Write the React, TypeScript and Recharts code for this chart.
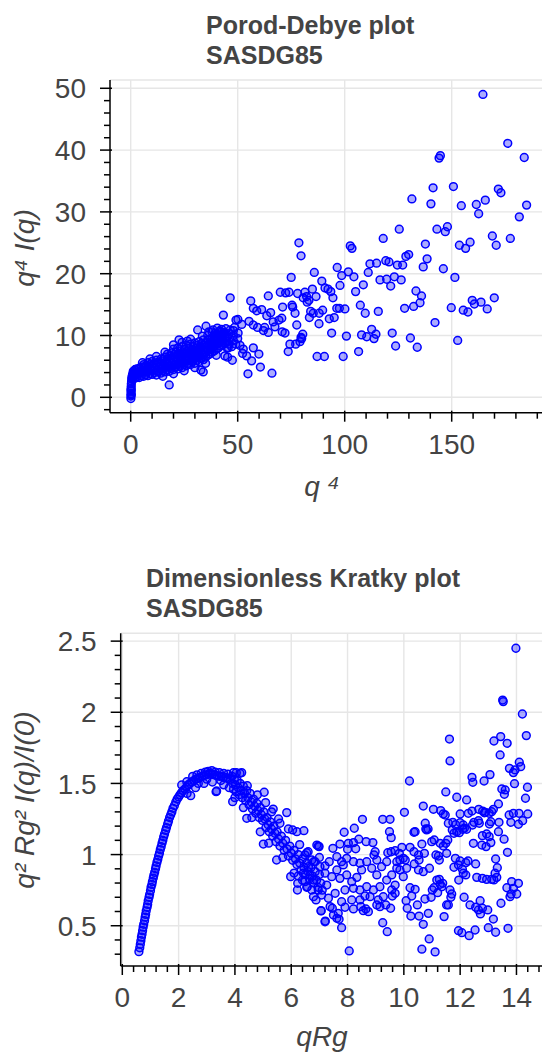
import React from 'react';
import { ScatterChart, Scatter, XAxis, YAxis, CartesianGrid, ReferenceLine } from 'recharts';

const FONT = '"Liberation Sans", Arial, Helvetica, sans-serif';
const TEXT = '#444444';
const BLUE = '#0000ff';
const GRID = '#e6e6e6';

// ---- Porod-Debye plot: q^4 vs q^4 I(q) ----
const POROD_CORE: [number, number][] = [
  [0.1, -0.2], [0.1, 0.2], [0.15, 0.6], [0.2, 1.0], [0.2, 1.4], [0.25, 1.8], [0.3, 2.2], [0.4, 2.6],
  [0.5, 3.0], [0.3, 0.4], [0.2, 1.2], [0.6, 3.3], [0.8, 3.6], [1.1, 3.9], [1.5, 4.2], [0.9, 2.9],
  [1.3, 3.2], [1.8, 3.5], [2.4, 3.9], [2.1, 4.5],
];

const POROD_BAND: [number, number][] = [
  [1, 3.0], [1, 3.6], [1.2, 4.2], [2, 3.1], [2.2, 3.8], [2, 4.4], [3, 3.3], [3.1, 4.0], [3, 4.6],
  [4, 3.2], [4.2, 3.9], [4, 4.7], [5, 3.5], [5.1, 4.2], [5, 4.9], [6, 3.4], [6.2, 4.1], [6, 4.8], [6.1, 5.3],
  [7, 3.6], [7.2, 4.4], [7, 5.1], [8, 3.5], [8.1, 4.3], [8, 5.0], [8.2, 5.6], [9, 3.8], [9.1, 4.6], [9, 5.3],
  [10, 3.7], [10.2, 4.4], [10, 5.1], [10.1, 5.8], [11, 4.0], [11.1, 4.8], [11, 5.5],
  [12, 3.6], [12.2, 4.3], [12, 5.2], [12.1, 6.0], [13, 4.1], [13.2, 4.9], [13, 5.7],
  [14, 3.9], [14.1, 4.6], [14, 5.4], [14.2, 6.2], [15, 4.3], [15.1, 5.1], [15, 5.9],
  [16, 4.1], [16.2, 4.8], [16, 5.6], [16.1, 6.5], [17, 4.5], [17.1, 5.3], [17, 6.1], [17.2, 7.0],
  [18, 4.2], [18.1, 5.0], [18, 5.8], [18.2, 6.7], [19, 4.7], [19.2, 5.5], [19, 6.3], [19.1, 7.2],
  [20, 4.5], [20.1, 5.2], [20, 6.0], [20.2, 6.9], [20, 7.8], [21, 4.9], [21.2, 5.7], [21, 6.5], [21.1, 7.3],
  [22, 4.6], [22.1, 5.4], [22, 6.2], [22.2, 7.0], [22, 8.0], [23, 5.0], [23.2, 5.9], [23, 6.7], [23.1, 7.5],
  [24, 4.8], [24.1, 5.6], [24, 6.4], [24.2, 7.2], [24, 8.2], [25, 5.3], [25.2, 6.1], [25, 6.9], [25.1, 7.7],
  [26, 5.1], [26.1, 5.9], [26, 6.6], [26.2, 7.4], [26, 8.4], [27, 5.5], [27.2, 6.3], [27, 7.1], [27.1, 7.9],
  [28, 5.3], [28.1, 6.1], [28, 6.9], [28.2, 7.6], [28, 8.6], [29, 5.8], [29.2, 6.6], [29, 7.4], [29.1, 8.2],
  [30, 5.5], [30.1, 6.3], [30, 7.1], [30.2, 7.9], [30, 8.8], [31, 6.0], [31.2, 6.8], [31, 7.6], [31.1, 8.4],
  [32, 5.8], [32.1, 6.6], [32, 7.4], [32.2, 8.1], [32, 9.0], [33, 6.3], [33.2, 7.1], [33, 7.9], [33.1, 8.7],
  [34, 6.1], [34.1, 6.9], [34, 7.7], [34.2, 8.5], [34, 9.3], [35, 6.5], [35.2, 7.3], [35, 8.1], [35.1, 8.9],
  [36, 6.8], [36.1, 7.6], [36, 8.4], [36.2, 9.2], [36, 10.0], [37, 7.0], [37.2, 7.8], [37, 8.6], [37.1, 9.4],
  [38, 7.3], [38.1, 8.1], [38, 8.9], [38.2, 9.7], [39, 7.5], [39.2, 8.3], [39, 9.1], [39.1, 9.9],
  [40, 7.8], [40.1, 8.6], [40, 9.4], [40.2, 10.2], [41, 8.0], [41.2, 8.8], [41, 9.6],
  [42, 8.3], [42.1, 9.1], [42, 9.9], [42.2, 10.5], [43, 8.5], [43.2, 9.3], [43, 10.1],
  [44, 8.8], [44.1, 9.6], [44, 10.4], [45, 9.0], [45.2, 9.8], [46, 8.6], [46.1, 9.5], [46, 10.3],
  [48, 9.2], [48.1, 10.0], [48, 10.8], [50, 9.5], [50.2, 10.4],
  [36.5, 10.6], [38.5, 10.9], [40.5, 11.2], [42.5, 11.0], [44.5, 11.1], [46.5, 10.9], [48.5, 11.3],
  [39.5, 10.4], [41.5, 10.7], [43.5, 10.5],
  [15, 3.4], [20, 3.8], [25, 4.3], [30, 4.8], [35, 5.5], [40, 6.8], [45, 8.0], [28, 9.4], [24, 8.9],
  [20, 8.5], [38, 10.6], [16, 7.3], [12, 6.6], [9, 6.2], [5.5, 5.6], [26.5, 9.1], [33.5, 9.9],
];

const POROD_SPREAD: [number, number][] = [
  [18.0, 2.0], [22.6, 9.3], [31.3, 10.9], [35.2, 11.5], [33.9, 4.1], [32.8, 4.4],
  [46.5, 16.1], [56.1, 15.6], [64.3, 16.4], [69.9, 17.0], [74.0, 17.0], [72.4, 16.9], [78.0, 16.8],
  [81.4, 17.0], [82.2, 16.3], [83.3, 15.7], [86.6, 16.3],
  [57.3, 14.4], [58.9, 14.0], [61.2, 14.2], [65.4, 13.7], [63.6, 13.2], [71.0, 14.6], [75.7, 14.6],
  [76.8, 13.6], [75.4, 14.9], [43.3, 13.3], [49.2, 12.5], [50.1, 12.6],
  [51.9, 11.8], [55.3, 12.3], [57.3, 11.7], [59.3, 11.3], [62.6, 11.3], [62.0, 10.8], [64.3, 10.5],
  [66.6, 12.2], [67.4, 11.4], [69.3, 12.5], [70.6, 12.8], [70.8, 10.6], [72.1, 10.4],
  [77.6, 11.7], [79.6, 9.7], [77.1, 8.6], [73.6, 7.4], [74.4, 8.6],
  [45.6, 8.0], [47.2, 8.2], [49.1, 8.6], [51.1, 8.4], [52.6, 7.8], [52.3, 7.1], [54.2, 6.7], [57.3, 8.0],
  [59.9, 7.0], [56.5, 5.9], [44.0, 6.7], [45.3, 6.5], [47.5, 6.0], [54.8, 3.8], [60.6, 4.9], [66.0, 3.9],
  [75.0, 19.4],
  [79.6, 22.9], [85.8, 20.2], [96.5, 21.0], [98.6, 19.7], [101.7, 20.3], [104.3, 19.5], [111.0, 20.2],
  [111.8, 21.6], [114.9, 21.7], [119.2, 22.1], [120.7, 21.9], [124.6, 21.4], [127.1, 21.4], [128.6, 22.8],
  [129.9, 23.1], [138.5, 22.4], [136.7, 21.1], [146.1, 20.8], [151.5, 19.4], [89.3, 18.8], [84.9, 17.5],
  [80.6, 16.1], [82.5, 15.4], [90.8, 17.7], [92.2, 17.5], [93.5, 17.1], [94.5, 16.1], [97.8, 18.1],
  [105.1, 17.1], [108.7, 18.2], [116.5, 19.0], [119.6, 19.1], [123.2, 19.5], [121.5, 18.0], [126.4, 19.0],
  [133.3, 17.2], [135.9, 16.4], [135.2, 15.3], [132.2, 14.7], [128.0, 14.4], [107.3, 14.9], [109.6, 13.6],
  [115.7, 13.9], [84.1, 13.9], [83.5, 12.9], [85.3, 13.6], [88.1, 13.6], [89.7, 14.1], [88.0, 11.9],
  [92.8, 12.7], [95.1, 12.9], [96.3, 14.4], [97.5, 14.4], [100.1, 14.3], [80.4, 10.2], [79.9, 9.5],
  [79.1, 9.0], [93.9, 10.4], [100.8, 9.9], [107.9, 10.1], [110.3, 9.8], [112.6, 11.0], [113.7, 9.5],
  [114.6, 10.2], [106.5, 7.4], [122.2, 10.4], [123.8, 8.3], [130.7, 9.6], [133.9, 8.1], [87.1, 6.6],
  [90.5, 6.6], [99.3, 6.6], [142.2, 12.1], [149.8, 14.5], [152.8, 9.2], [155.4, 14.1], [157.6, 13.8],
  [159.6, 15.7], [160.6, 15.1], [163.7, 15.4], [166.6, 14.3], [169.9, 16.1],
  [164.6, 49.0], [176.2, 41.1], [183.9, 38.8], [144.7, 39.1], [144.1, 38.7], [141.3, 33.9], [150.8, 34.1],
  [131.4, 32.1], [140.3, 31.3], [154.5, 31.0], [161.5, 31.2], [165.7, 31.9], [171.8, 33.7], [173.0, 33.1],
  [185.0, 31.1], [162.6, 29.7], [181.6, 29.2], [125.5, 27.2], [143.1, 27.2], [148.0, 27.6], [147.0, 26.8],
  [118.0, 25.7], [78.6, 25.0], [102.6, 24.5], [103.4, 24.1], [137.7, 24.8], [153.6, 24.6], [158.6, 25.1],
  [156.5, 24.1], [169.0, 26.1], [170.8, 24.6], [177.4, 25.7],
];

const POROD_X_MAJOR = [0, 50, 100, 150];
const POROD_X_MINOR = [10, 20, 30, 40, 60, 70, 80, 90, 110, 120, 130, 140, 160, 170, 180, 190];
const POROD_Y_MAJOR = [0, 10, 20, 30, 40, 50];
const POROD_Y_MINOR = [-2, 2, 4, 6, 8, 12, 14, 16, 18, 22, 24, 26, 28, 32, 34, 36, 38, 42, 44, 46, 48];

// ---- Dimensionless Kratky plot: qRg vs (qRg)^2 I(q)/I(0) ----
const KRATKY_RISE: [number, number][] = [
  [0.59, 0.318], [0.62, 0.345], [0.64, 0.37], [0.66, 0.395], [0.68, 0.42], [0.70, 0.44], [0.72, 0.465],
  [0.74, 0.49], [0.76, 0.51], [0.79, 0.535], [0.81, 0.56], [0.83, 0.58], [0.85, 0.605], [0.88, 0.63],
  [0.90, 0.65], [0.92, 0.675], [0.95, 0.70], [0.97, 0.72], [1.00, 0.745], [1.02, 0.77], [1.05, 0.79],
  [1.07, 0.81], [1.10, 0.835], [1.12, 0.855], [1.15, 0.875], [1.18, 0.90], [1.20, 0.92], [1.23, 0.945],
  [1.26, 0.965], [1.29, 0.99], [1.32, 1.01], [1.35, 1.035], [1.38, 1.055], [1.41, 1.08], [1.44, 1.10],
  [1.47, 1.125], [1.50, 1.145], [1.54, 1.17], [1.57, 1.19], [1.61, 1.215], [1.64, 1.235], [1.68, 1.26],
  [1.72, 1.28], [1.76, 1.30], [1.80, 1.325], [1.85, 1.345], [1.90, 1.37], [1.95, 1.39], [2.00, 1.405],
  [2.05, 1.42], [2.10, 1.435], [2.16, 1.45], [2.22, 1.46], [2.28, 1.475], [2.34, 1.49], [2.40, 1.50],
  [2.47, 1.51], [2.54, 1.52], [2.61, 1.53], [2.68, 1.535], [2.75, 1.54], [2.83, 1.55], [2.90, 1.555],
  [2.98, 1.56], [3.05, 1.565], [3.13, 1.57], [3.20, 1.565], [3.28, 1.56], [3.36, 1.555], [3.44, 1.55],
  [3.52, 1.55], [3.60, 1.545], [3.68, 1.54], [3.76, 1.535], [3.84, 1.53],
  [2.11, 1.489], [2.29, 1.512], [2.43, 1.414], [2.5, 1.55], [2.65, 1.56], [2.8, 1.57], [2.95, 1.58],
  [3.05, 1.585], [3.18, 1.59], [3.3, 1.58], [3.45, 1.575], [3.6, 1.57], [3.75, 1.565], [3.95, 1.575],
  [4.05, 1.575], [4.18, 1.571], [4.24, 1.576], [2.3, 1.43], [2.6, 1.47], [2.9, 1.50], [3.2, 1.51],
  [3.33, 1.442], [3.6, 1.49], [3.8, 1.47], [3.5, 1.52], [3.0, 1.53], [2.7, 1.50],
];

const KRATKY_FALL: [number, number][] = [
  [3.9, 1.55], [3.92, 1.50], [3.95, 1.46], [3.98, 1.53], [4.02, 1.49], [4.05, 1.44], [4.08, 1.52],
  [4.12, 1.47], [4.15, 1.42], [4.19, 1.50], [4.22, 1.45], [4.26, 1.40], [4.30, 1.48], [4.34, 1.43],
  [4.38, 1.38], [4.42, 1.45], [4.46, 1.40], [4.50, 1.35], [4.54, 1.43], [4.58, 1.37], [4.62, 1.32],
  [4.66, 1.39], [4.70, 1.34], [4.74, 1.29], [4.78, 1.36], [4.82, 1.31], [4.86, 1.26], [4.90, 1.33],
  [4.94, 1.28], [4.98, 1.24], [5.02, 1.30], [5.06, 1.25], [5.10, 1.19], [5.14, 1.26], [5.18, 1.21],
  [5.22, 1.16], [5.26, 1.23], [5.30, 1.18], [5.34, 1.13], [5.38, 1.20], [5.42, 1.15], [5.46, 1.09],
  [5.50, 1.16], [5.55, 1.11], [5.60, 1.06], [5.65, 1.13], [5.70, 1.08], [5.75, 1.03], [5.80, 1.10],
  [5.85, 1.04], [5.90, 0.99], [5.95, 1.06], [6.00, 1.01], [6.05, 0.96], [6.10, 1.03], [6.15, 0.97],
  [6.20, 0.93], [6.25, 1.00], [6.30, 0.94], [6.35, 0.89], [6.40, 0.97], [6.45, 0.91], [6.50, 0.86],
  [6.55, 0.94], [6.60, 0.88], [6.65, 0.83], [6.70, 0.91], [6.75, 0.85], [6.80, 0.80], [6.85, 0.88],
  [6.90, 0.82], [6.95, 0.77], [7.00, 0.86], [7.05, 0.80], [7.10, 0.75],
  [4.44, 1.484], [5.04, 1.438], [5.09, 1.365], [5.36, 1.32], [5.84, 1.295], [6.05, 1.173], [6.20, 1.161],
  [6.45, 1.168], [4.42, 1.255], [3.92, 1.372], [3.35, 1.447], [5.01, 1.074], [5.48, 0.962], [5.98, 0.845],
  [6.23, 0.798], [6.22, 0.751], [6.96, 1.060], [6.73, 0.962], [7.06, 0.604], [7.21, 0.533], [6.88, 0.681],
  [4.6, 1.26], [4.8, 1.42], [5.3, 1.30], [5.6, 1.22], [5.9, 1.18], [6.1, 0.87], [6.4, 0.82], [5.7, 0.98],
  [5.2, 1.08], [4.9, 1.16], [6.6, 1.02], [6.8, 0.95], [7.0, 0.98], [7.2, 0.92], [4.3, 1.33], [4.0, 1.40],
  [5.55, 1.25], [6.3, 1.07], [6.55, 0.77], [6.25, 0.85],
];

const KRATKY_SPREAD: [number, number][] = [
  [13.98, 2.45], [13.51, 2.086], [13.53, 2.075], [14.21, 1.988], [14.35, 1.836], [11.62, 1.812],
  [13.20, 1.798], [13.44, 1.829], [13.67, 1.782], [11.64, 1.658], [13.42, 1.70], [14.10, 1.649],
  [14.15, 1.618], [13.95, 1.595], [13.75, 1.606], [13.89, 1.576], [10.20, 1.517], [11.49, 1.44],
  [11.88, 1.403], [12.23, 1.384], [12.42, 1.543], [12.45, 1.508], [12.85, 1.517], [13.06, 1.562],
  [13.93, 1.498], [14.39, 1.473], [13.48, 1.461], [13.60, 1.454], [13.57, 1.424], [14.32, 1.396],
  [13.36, 1.356], [10.69, 1.341], [10.02, 1.297], [11.05, 1.318], [11.31, 1.309], [11.40, 1.285],
  [11.47, 1.278], [12.00, 1.285], [12.29, 1.290], [12.42, 1.306], [12.66, 1.318], [12.80, 1.306],
  [12.90, 1.297], [13.12, 1.301], [13.18, 1.318], [13.03, 1.290], [12.86, 1.294], [13.74, 1.278],
  [13.89, 1.290], [14.09, 1.290], [14.22, 1.238], [14.07, 1.213], [13.80, 1.227], [14.40, 1.285],
  [11.58, 1.220], [11.74, 1.227], [11.84, 1.210], [12.00, 1.224], [12.11, 1.208], [12.09, 1.178],
  [12.23, 1.178], [11.72, 1.173], [11.78, 1.150], [11.97, 1.154], [11.88, 1.161], [12.49, 1.227],
  [12.65, 1.238], [12.44, 1.208], [12.68, 1.220], [13.09, 1.231], [13.04, 1.215], [13.38, 1.227],
  [10.76, 1.220], [10.86, 1.180], [10.78, 1.180], [10.81, 1.173], [10.36, 1.157], [10.40, 1.161],
  [9.49, 1.161], [9.55, 1.119], [9.25, 1.248], [9.51, 1.248], [8.53, 1.248], [8.24, 1.185], [7.88, 1.157],
  [6.91, 1.067], [6.99, 1.056], [6.55, 1.013], [6.49, 0.997],
  [7.48, 1.044], [7.73, 1.074], [8.03, 1.079], [8.21, 1.084], [8.40, 1.108], [8.66, 1.091], [8.90, 1.084],
  [8.00, 1.037], [8.29, 1.041], [8.98, 1.020], [8.94, 0.997], [9.43, 1.013], [9.55, 1.020], [9.69, 1.027],
  [9.84, 1.009], [9.93, 1.051], [10.05, 0.962], [9.86, 0.962], [9.98, 0.974], [9.75, 0.950],
  [10.22, 1.051], [10.36, 1.020], [10.52, 0.997], [10.64, 1.074], [10.73, 1.009], [10.54, 0.962],
  [10.37, 0.934], [10.99, 1.091], [11.08, 1.103], [11.29, 1.079], [11.49, 1.079], [11.56, 1.103],
  [11.40, 1.060], [11.52, 1.009], [11.23, 0.990], [11.26, 0.962], [11.14, 0.997],
  [11.83, 0.974], [12.00, 0.955], [12.20, 0.943], [12.28, 0.955], [12.55, 0.934], [11.94, 0.927],
  [12.11, 0.869], [12.20, 0.857], [11.78, 0.911], [12.08, 0.897],
  [12.15, 1.185], [12.47, 1.079], [12.79, 1.133], [12.94, 1.145], [13.03, 1.126], [12.92, 1.056],
  [13.09, 1.084], [12.77, 1.067], [13.36, 1.161], [13.56, 1.108], [13.68, 1.016],
  [13.26, 0.969], [13.32, 0.908], [13.24, 0.869], [13.12, 0.826], [13.30, 0.840], [13.20, 0.822],
  [12.59, 0.840], [12.79, 0.833], [12.94, 0.826], [11.95, 0.821],
  [13.83, 0.810], [14.07, 0.798], [13.66, 0.767], [13.89, 0.763], [13.81, 0.723], [14.01, 0.723],
  [13.77, 0.704], [13.45, 0.658], [12.14, 0.700],
  [12.35, 0.646], [12.55, 0.630], [12.71, 0.676], [12.65, 0.611], [12.79, 0.623], [12.98, 0.611],
  [12.72, 0.583], [13.18, 0.547], [11.94, 0.465], [12.06, 0.451], [12.32, 0.430], [12.53, 0.470],
  [13.00, 0.486], [13.26, 0.454], [13.70, 0.482], [11.43, 0.564],
  [11.67, 0.700], [11.70, 0.723], [11.64, 0.751], [11.58, 0.646], [11.52, 0.646],
  [11.20, 0.732], [11.07, 0.767], [11.01, 0.751], [11.29, 0.791], [11.35, 0.774],
  [11.17, 0.821], [11.26, 0.826], [11.38, 0.798],
  [10.75, 0.688], [10.97, 0.700], [10.87, 0.587], [10.48, 0.646], [10.69, 0.510],
  [10.22, 0.767], [10.40, 0.756], [10.28, 0.709], [10.08, 0.676], [10.12, 0.623], [10.25, 0.568],
  [10.54, 0.568], [10.90, 0.407], [10.64, 0.335], [11.11, 0.316],
  [9.25, 0.521], [9.41, 0.458], [8.06, 0.323], [7.79, 0.486],
  [7.20, 0.528], [7.06, 0.606], [7.38, 0.634], [7.62, 0.552], [7.70, 0.545], [7.50, 0.576], [7.67, 0.587],
  [7.46, 0.623], [7.91, 0.630], [8.21, 0.618], [8.47, 0.634], [8.65, 0.618], [8.74, 0.599], [8.56, 0.606],
  [9.04, 0.646], [9.15, 0.634], [9.36, 0.646], [9.53, 0.623], [9.09, 0.681], [8.80, 0.704], [8.62, 0.709],
  [9.69, 0.728], [9.69, 0.786], [9.57, 0.751], [9.59, 0.709],
  [6.43, 0.869], [6.61, 0.915], [6.85, 0.950], [7.02, 0.915], [7.20, 0.869], [6.79, 0.821], [6.57, 0.774],
  [6.96, 0.751], [7.26, 0.786], [7.44, 0.845], [7.62, 0.892], [7.85, 0.927], [7.73, 0.833], [7.97, 0.857],
  [8.15, 0.810], [8.33, 0.840], [8.50, 0.892], [8.68, 0.950], [8.86, 0.904], [9.04, 0.857], [9.21, 0.915],
  [9.39, 0.950], [9.57, 0.857], [9.39, 0.821], [9.15, 0.774], [8.92, 0.751], [8.68, 0.774], [8.44, 0.751],
  [8.21, 0.763], [7.91, 0.751], [7.56, 0.728], [7.32, 0.693], [7.08, 0.716], [6.79, 0.704], [6.73, 0.751],
  [7.79, 0.669], [8.15, 0.681], [8.44, 0.681], [9.27, 0.704], [9.86, 0.892], [9.98, 0.845], [10.10, 0.904],
  [10.52, 0.892], [10.69, 0.880], [10.91, 0.904], [9.75, 0.904], [9.04, 0.962], [8.21, 0.950], [7.97, 0.974],
  [7.62, 0.985], [7.35, 0.950], [7.79, 0.950], [8.44, 0.939], [6.49, 0.810], [6.67, 0.857],
];

const KRATKY_X_MAJOR = [0, 2, 4, 6, 8, 10, 12, 14];
const KRATKY_X_MINOR = [
  0.4, 0.8, 1.2, 1.6, 2.4, 2.8, 3.2, 3.6, 4.4, 4.8, 5.2, 5.6, 6.4, 6.8, 7.2, 7.6, 8.4, 8.8, 9.2, 9.6,
  10.4, 10.8, 11.2, 11.6, 12.4, 12.8, 13.2, 13.6, 14.4, 14.8,
];
const KRATKY_Y_MAJOR = [0.5, 1, 1.5, 2, 2.5];
const KRATKY_Y_MINOR = [
  0.3, 0.4, 0.6, 0.7, 0.8, 0.9, 1.1, 1.2, 1.3, 1.4, 1.6, 1.7, 1.8, 1.9, 2.1, 2.2, 2.3, 2.4,
];

const toPoints = (...lists: [number, number][][]) =>
  lists.flat().map(([x, y]) => ({ x, y }));

const isMajor = (v: number, majors: number[]) => majors.some((m) => Math.abs(m - v) < 1e-6);

const Dot = (props: any) => (
  <circle
    cx={props.cx}
    cy={props.cy}
    r={3.9}
    fill={BLUE}
    fillOpacity={0.33}
    stroke={BLUE}
    strokeWidth={1.5}
  />
);

const makeYTick = (majors: number[]) => (props: any) => {
  const { x, y, payload } = props;
  const major = isMajor(payload.value, majors);
  return (
    <g>
      <line x1={x - (major ? 10 : 6)} x2={x + (major ? 2 : 0)} y1={y} y2={y} stroke="#000" strokeWidth={1.5} />
      {major && (
        <text x={x - 24} y={y} dy="0.36em" textAnchor="end" fontSize={28} fill={TEXT} fontFamily={FONT}>
          {String(payload.value)}
        </text>
      )}
    </g>
  );
};

const makeXTick = (majors: number[]) => (props: any) => {
  const { x, y, payload } = props;
  const major = isMajor(payload.value, majors);
  return (
    <g>
      <line x1={x} x2={x} y1={y - (major ? 2 : 0)} y2={y + (major ? 9 : 6)} stroke="#000" strokeWidth={1.5} />
      {major && (
        <text x={x} y={y + 41} textAnchor="middle" fontSize={28} fill={TEXT} fontFamily={FONT}>
          {String(payload.value)}
        </text>
      )}
    </g>
  );
};

interface PanelProps {
  top: number;
  height: number;
  marginTop: number;
  axisWidth: number;
  xAxisHeight: number;
  points: { x: number; y: number }[];
  xDomain: [number, number];
  yDomain: [number, number];
  xMajor: number[];
  xMinor: number[];
  yMajor: number[];
  yMinor: number[];
}

function Panel(p: PanelProps) {
  const xTicks = [...p.xMajor, ...p.xMinor].sort((a, b) => a - b);
  const yTicks = [...p.yMajor, ...p.yMinor].sort((a, b) => a - b);
  return (
    <div style={{ position: 'absolute', left: 0, top: p.top, width: 560, height: p.height }}>
      <ScatterChart width={560} height={p.height} margin={{ top: p.marginTop, right: 12, bottom: 0, left: 0 }}>
        <CartesianGrid
          stroke={GRID}
          strokeWidth={1.4}
          horizontalValues={p.yMajor}
          verticalValues={p.xMajor}
        />
        <ReferenceLine y={p.yDomain[1]} stroke={GRID} strokeWidth={1.4} />
        <XAxis
          type="number"
          dataKey="x"
          domain={p.xDomain}
          allowDataOverflow
          ticks={xTicks}
          interval={0}
          height={p.xAxisHeight}
          tickSize={0}
          tickMargin={0}
          tickLine={false}
          axisLine={{ stroke: '#000', strokeWidth: 1.5 }}
          tick={makeXTick(p.xMajor)}
        />
        <YAxis
          type="number"
          dataKey="y"
          domain={p.yDomain}
          allowDataOverflow
          ticks={yTicks}
          interval={0}
          width={p.axisWidth}
          tickSize={0}
          tickMargin={0}
          tickLine={false}
          axisLine={{ stroke: '#000', strokeWidth: 1.5 }}
          tick={makeYTick(p.yMajor)}
        />
        <Scatter data={p.points} shape={Dot} isAnimationActive={false} />
      </ScatterChart>
    </div>
  );
}

const Title = ({ left, top, lines }: { left: number; top: number; lines: string[] }) => (
  <div
    style={{
      position: 'absolute',
      left,
      top,
      fontFamily: FONT,
      fontWeight: 700,
      fontSize: 25,
      lineHeight: '30px',
      color: TEXT,
      whiteSpace: 'nowrap',
    }}
  >
    {lines.map((l) => (
      <div key={l}>{l}</div>
    ))}
  </div>
);

const AxisLabel = ({ cx, cy, text, rotate }: { cx: number; cy: number; text: string; rotate?: boolean }) => (
  <div
    style={{
      position: 'absolute',
      left: cx,
      top: cy,
      transform: `translate(-50%, -50%)${rotate ? ' rotate(-90deg)' : ''}`,
      fontFamily: FONT,
      fontStyle: 'italic',
      fontSize: 28,
      lineHeight: 1,
      color: TEXT,
      whiteSpace: 'nowrap',
    }}
  >
    {text}
  </div>
);

export default function App() {
  const porod = toPoints(POROD_CORE, POROD_BAND, POROD_SPREAD);
  const kratky = toPoints(KRATKY_RISE, KRATKY_FALL, KRATKY_SPREAD);
  return (
    <div
      style={{
        position: 'absolute',
        left: 0,
        top: 0,
        width: 542,
        height: 1053,
        overflow: 'hidden',
        background: '#fff',
      }}
    >
      <Panel
        top={0}
        height={500}
        marginTop={80}
        axisWidth={110}
        xAxisHeight={87.3}
        points={porod}
        xDomain={[-9.67, 195.0]}
        yDomain={[-2.49, 51.34]}
        xMajor={POROD_X_MAJOR}
        xMinor={POROD_X_MINOR}
        yMajor={POROD_Y_MAJOR}
        yMinor={POROD_Y_MINOR}
      />
      <Panel
        top={540}
        height={513}
        marginTop={93.3}
        axisWidth={120.7}
        xAxisHeight={87}
        points={kratky}
        xDomain={[-0.057, 15.12]}
        yDomain={[0.217, 2.555]}
        xMajor={KRATKY_X_MAJOR}
        xMinor={KRATKY_X_MINOR}
        yMajor={KRATKY_Y_MAJOR}
        yMinor={KRATKY_Y_MINOR}
      />
      <Title left={206} top={10} lines={['Porod-Debye plot', 'SASDG85']} />
      <Title left={146} top={563} lines={['Dimensionless Kratky plot', 'SASDG85']} />
      <AxisLabel cx={25} cy={248} text="q⁴ I(q)" rotate />
      <AxisLabel cx={322} cy={487} text="q ⁴" />
      <AxisLabel cx={25} cy={800} text="q² Rg² I(q)/I(0)" rotate />
      <AxisLabel cx={322} cy={1037} text="qRg" />
    </div>
  );
}
